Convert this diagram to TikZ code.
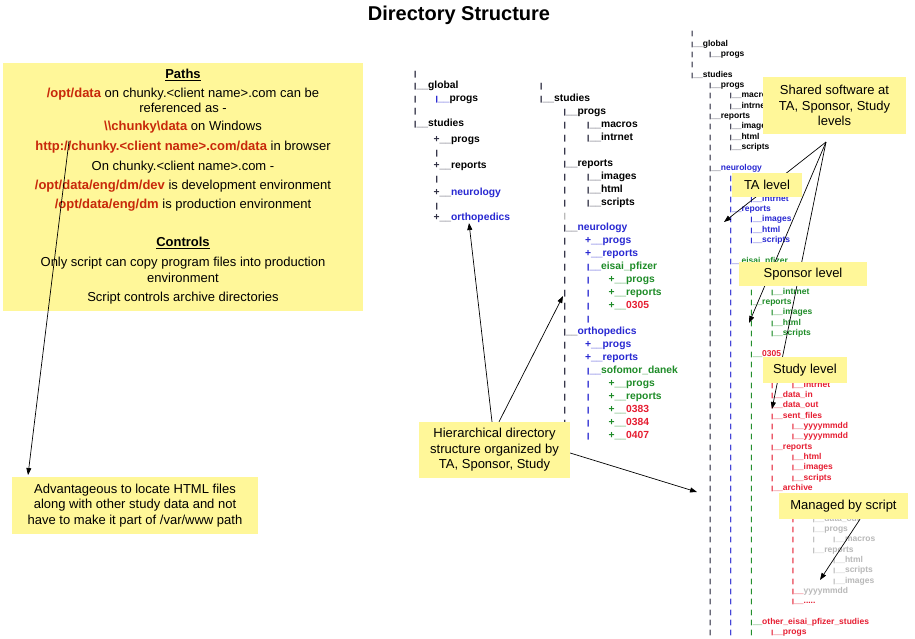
\documentclass[tikz,border=0pt]{standalone}
\usepackage{fontspec}
\usepackage{graphicx}
\setmainfont{Liberation Sans}
\usetikzlibrary{arrows.meta}
\definecolor{noteyellow}{RGB}{255,247,153}
\definecolor{pathred}{RGB}{200,40,10}
\definecolor{dirdark}{RGB}{50,50,70}
\definecolor{dirblue}{RGB}{40,40,210}
\definecolor{dirgreen}{RGB}{30,140,40}
\definecolor{dirred}{RGB}{230,30,50}
\definecolor{dirgray}{RGB}{185,185,185}
\tikzset{
  note/.style={fill=noteyellow, inner sep=0pt, align=center, font=\fontsize{13}{15.5}\selectfont},
  treeB/.style={inner sep=0pt, anchor=base west, xshift=-1.45pt, yshift=-3.4pt, font=\fontsize{10.3}{12}\selectfont\bfseries},
  treeC/.style={inner sep=0pt, anchor=base west, xshift=-1.2pt, yshift=-2.8pt, font=\fontsize{8.5}{10}\selectfont\bfseries},
  plusB/.style={treeB, xshift=-1.55pt},
  pointer/.style={-{Triangle[length=7pt,width=5pt]}, line width=0.7pt},
}
% one directory line: style, x of bar, row, prefix colour, name colour, name
\newcommand{\dirRule}{\scalebox{1}[0.7]{|}}
\newcommand{\dirEntry}[6]{\node[#1] at (#2,#3) {\textcolor{#4}{\dirRule\_\_}\textcolor{#5}{#6}};}
\newcommand{\dirPlus}[6]{\node[#1] at (#2,#3) {\textcolor{#4}{+\_\_}\textcolor{#5}{#6}};}
\newcommand{\dirBar}[4]{\node[#1] at (#2,#3) {\textcolor{#4}{\dirRule}};}
\begin{document}
\begin{tikzpicture}[x=1pt, y=-1pt]
\useasboundingbox (0,0) rectangle (915,638);
\fill[white] (0,0) rectangle (915,638);
\node[font=\fontsize{20}{23}\selectfont\bfseries] (title) at (459,15) {Directory Structure};

% Paths and controls
\node[note, minimum width=360, minimum height=248] (paths) at (183,186.5) {%
\underline{\textbf{Paths}}\\[3.5pt]
\textcolor{pathred}{\textbf{/opt/data}} on chunky.<client name>.com can be\\
referenced as -\\[2.5pt]
\textcolor{pathred}{\textbf{\textbackslash\textbackslash chunky\textbackslash data}} on Windows\\[4.5pt]
\textcolor{pathred}{\textbf{http://chunky.<client name>.com/data}} in browser\\[4.5pt]
On chunky.<client name>.com -\\[3.5pt]
\textcolor{pathred}{\textbf{/opt/data/eng/dm/dev}} is development environment\\[3.5pt]
\textcolor{pathred}{\textbf{/opt/data/eng/dm}} is production environment\\[22.5pt]
\underline{\textbf{Controls}}\\[4.5pt]
Only script can copy program files into production\\
environment\\[3.5pt]
Script controls archive directories};
\node[note, minimum width=246, minimum height=57] (htmlnote) at (135,505.5)
  {Advantageous to locate HTML files\\along with other study data and not\\have to make it part of /var/www path};
\coordinate (httpSrc) at (69,141);
\coordinate (htmlTip) at (28,475);
\draw[pointer] (httpSrc) -- (htmlTip);

% Tree: top levels
\def\lA{415} \def\lB{436.5}
\dirBar{treeB}{\lA}{73}{dirdark}
\dirEntry{treeB}{\lA}{85}{dirdark}{black}{global}
\dirBar{treeB}{\lA}{98}{dirdark}
\dirEntry{treeB}{\lB}{98}{dirblue}{black}{progs}
\dirBar{treeB}{\lA}{110}{dirdark}
\dirEntry{treeB}{\lA}{123}{dirdark}{black}{studies}
\dirPlus{plusB}{\lB}{139}{dirdark}{black}{progs}
\dirBar{treeB}{\lB}{152}{dirdark}
\dirPlus{plusB}{\lB}{165}{dirdark}{black}{reports}
\dirBar{treeB}{\lB}{178}{dirdark}
\dirPlus{plusB}{\lB}{192}{dirdark}{dirblue}{neurology}
\dirBar{treeB}{\lB}{205}{dirdark}
\dirPlus{plusB}{\lB}{217}{dirdark}{dirblue}{orthopedics}

% Tree: studies by TA and sponsor
\def\mA{541} \def\mB{564.5} \def\mC{588} \def\mD{611.5}
\begin{scope}[shift={(0,85)}, y=-12.96pt]
  \dirBar{treeB}{\mA}{0}{dirdark}
  \dirEntry{treeB}{\mA}{1}{dirdark}{black}{studies}
  \dirEntry{treeB}{\mB}{2}{dirdark}{black}{progs}
  \dirEntry{treeB}{\mC}{3}{dirdark}{black}{macros}
  \dirEntry{treeB}{\mC}{4}{dirdark}{black}{intrnet}
  \dirEntry{treeB}{\mB}{6}{dirdark}{black}{reports}
  \dirEntry{treeB}{\mC}{7}{dirdark}{black}{images}
  \dirEntry{treeB}{\mC}{8}{dirdark}{black}{html}
  \dirEntry{treeB}{\mC}{9}{dirdark}{black}{scripts}
  \dirEntry{treeB}{\mB}{11}{dirdark}{dirblue}{neurology}
  \dirEntry{treeB}{\mB}{19}{dirdark}{dirblue}{orthopedics}
  \foreach \i in {3,4,5,7,8,9,12,13,...,18,20,21,...,27} {\dirBar{treeB}{\mB}{\i}{dirdark}}
  \dirBar{treeB}{\mB}{10}{dirgray}
  % neurology
  \dirPlus{plusB}{\mC}{12}{dirblue}{dirblue}{progs}
  \dirPlus{plusB}{\mC}{13}{dirblue}{dirblue}{reports}
  \dirEntry{treeB}{\mC}{14}{dirblue}{dirgreen}{eisai\_pfizer}
  \foreach \i in {15,...,18} {\dirBar{treeB}{\mC}{\i}{dirblue}}
  \dirPlus{plusB}{\mD}{15}{dirgreen}{dirgreen}{progs}
  \dirPlus{plusB}{\mD}{16}{dirgreen}{dirgreen}{reports}
  \dirPlus{plusB}{\mD}{17}{dirgreen}{dirred}{0305}
  % orthopedics
  \dirPlus{plusB}{\mC}{20}{dirblue}{dirblue}{progs}
  \dirPlus{plusB}{\mC}{21}{dirblue}{dirblue}{reports}
  \dirEntry{treeB}{\mC}{22}{dirblue}{dirgreen}{sofomor\_danek}
  \foreach \i in {23,...,27} {\dirBar{treeB}{\mC}{\i}{dirblue}}
  \dirPlus{plusB}{\mD}{23}{dirgreen}{dirgreen}{progs}
  \dirPlus{plusB}{\mD}{24}{dirgreen}{dirgreen}{reports}
  \dirPlus{plusB}{\mD}{25}{dirgreen}{dirred}{0383}
  \dirPlus{plusB}{\mD}{26}{dirgreen}{dirred}{0384}
  \dirPlus{plusB}{\mD}{27}{dirgreen}{dirred}{0407}
\end{scope}

% Tree: full layout down to study level
\def\rA{692} \def\rB{710} \def\rC{730.7} \def\rD{751.4}
\def\rE{772.1} \def\rF{792.8} \def\rG{813.5} \def\rH{834.2}
\begin{scope}[shift={(0,33)}, y=-10.33pt]
  \foreach \i in {0,2,3} {\dirBar{treeC}{\rA}{\i}{dirdark}}
  \dirEntry{treeC}{\rA}{1}{dirdark}{black}{global}
  \dirEntry{treeC}{\rB}{2}{dirdark}{black}{progs}
  \dirEntry{treeC}{\rA}{4}{dirdark}{black}{studies}
  \dirEntry{treeC}{\rB}{5}{dirdark}{black}{progs}
  \dirEntry{treeC}{\rC}{6}{dirdark}{black}{macros}
  \dirEntry{treeC}{\rC}{7}{dirdark}{black}{intrnet}
  \dirEntry{treeC}{\rB}{8}{dirdark}{black}{reports}
  \dirEntry{treeC}{\rC}{9}{dirdark}{black}{images}
  \dirEntry{treeC}{\rC}{10}{dirdark}{black}{html}
  \dirEntry{treeC}{\rC}{11}{dirdark}{black}{scripts}
  \dirEntry{treeC}{\rB}{13}{dirdark}{dirblue}{neurology}
  \foreach \i in {6,7,9,10,11,12,14,15,...,58} {\dirBar{treeC}{\rB}{\i}{dirdark}}
  % TA level
  \dirEntry{treeC}{\rD}{16}{dirblue}{dirblue}{intrnet}
  \dirEntry{treeC}{\rC}{17}{dirblue}{dirblue}{reports}
  \dirEntry{treeC}{\rD}{18}{dirblue}{dirblue}{images}
  \dirEntry{treeC}{\rD}{19}{dirblue}{dirblue}{html}
  \dirEntry{treeC}{\rD}{20}{dirblue}{dirblue}{scripts}
  \dirEntry{treeC}{\rC}{22}{dirblue}{dirgreen}{eisai\_pfizer}
  \foreach \i in {14,15,16,18,19,20,21,23,24,...,58} {\dirBar{treeC}{\rC}{\i}{dirblue}}
  % sponsor level
  \dirEntry{treeC}{\rE}{25}{dirgreen}{dirgreen}{intrnet}
  \dirEntry{treeC}{\rD}{26}{dirgreen}{dirgreen}{reports}
  \dirEntry{treeC}{\rE}{27}{dirgreen}{dirgreen}{images}
  \dirEntry{treeC}{\rE}{28}{dirgreen}{dirgreen}{html}
  \dirEntry{treeC}{\rE}{29}{dirgreen}{dirgreen}{scripts}
  \dirEntry{treeC}{\rD}{31}{dirgreen}{dirred}{0305}
  \dirEntry{treeC}{\rD}{57}{dirgreen}{dirred}{other\_eisai\_pfizer\_studies}
  \foreach \i in {25,27,28,29,30,32,33,...,56,58} {\dirBar{treeC}{\rD}{\i}{dirgreen}}
  % study level
  \dirEntry{treeC}{\rF}{34}{dirred}{dirred}{intrnet}
  \dirEntry{treeC}{\rE}{35}{dirred}{dirred}{data\_in}
  \dirEntry{treeC}{\rE}{36}{dirred}{dirred}{data\_out}
  \dirEntry{treeC}{\rE}{37}{dirred}{dirred}{sent\_files}
  \dirEntry{treeC}{\rF}{38}{dirred}{dirred}{yyyymmdd}
  \dirEntry{treeC}{\rF}{39}{dirred}{dirred}{yyyymmdd}
  \dirEntry{treeC}{\rE}{40}{dirred}{dirred}{reports}
  \dirEntry{treeC}{\rF}{41}{dirred}{dirred}{html}
  \dirEntry{treeC}{\rF}{42}{dirred}{dirred}{images}
  \dirEntry{treeC}{\rF}{43}{dirred}{dirred}{scripts}
  \dirEntry{treeC}{\rE}{44}{dirred}{dirred}{archive}
  \foreach \i in {34,38,39,41,42,43} {\dirBar{treeC}{\rE}{\i}{dirred}}
  % archive
  \dirEntry{treeC}{\rG}{47}{dirgray}{dirgray}{data\_out}
  \dirEntry{treeC}{\rG}{48}{dirgray}{dirgray}{progs}
  \dirBar{treeC}{\rG}{49}{dirgray}
  \dirEntry{treeC}{\rH}{49}{dirgray}{dirgray}{macros}
  \dirEntry{treeC}{\rG}{50}{dirgray}{dirgray}{reports}
  \dirEntry{treeC}{\rH}{51}{dirgray}{dirgray}{html}
  \dirEntry{treeC}{\rH}{52}{dirgray}{dirgray}{scripts}
  \dirEntry{treeC}{\rH}{53}{dirgray}{dirgray}{images}
  \foreach \i in {47,...,53} {\dirBar{treeC}{\rF}{\i}{dirred}}
  \dirEntry{treeC}{\rF}{54}{dirred}{dirgray}{yyyymmdd}
  \dirEntry{treeC}{\rF}{55}{dirred}{dirred}{.....}
  \dirEntry{treeC}{\rE}{58}{dirred}{dirred}{progs}
\end{scope}

% Callouts
\node[note, minimum width=151, minimum height=56] (hier) at (494.5,450)
  {Hierarchical directory\\structure organized by\\TA, Sponsor, Study};
\coordinate (orthoTip) at (469,223);
\coordinate (sponsorTreeTip) at (563,296);
\coordinate (fullTreeTip) at (697,492);
\draw[pointer] ([xshift=-2.5pt]hier.north) -- (orthoTip);
\draw[pointer] ([xshift=4.5pt]hier.north) -- (sponsorTreeTip);
\draw[pointer] ([yshift=-3pt]hier.east) -- (fullTreeTip);

\coordinate (sharedFoot) at (826,142);
\coordinate (taTip) at (724,222);
\coordinate (sponsorTip) at (749,323);
\coordinate (studyTip) at (772,409);
\draw[pointer] (sharedFoot) -- (taTip);
\draw[pointer] (sharedFoot) -- (sponsorTip);
\draw[pointer] (sharedFoot) -- (studyTip);
\node[note, minimum width=143, minimum height=57] (shared) at (834.5,105.5)
  {Shared software at\\TA, Sponsor, Study\\levels};
\node[note, minimum width=70, minimum height=24] (talevel) at (767,185) {TA level};
\node[note, minimum width=128, minimum height=24] (sponsorlevel) at (803,274) {Sponsor level};
\node[note, minimum width=84, minimum height=26] (studylevel) at (805,370) {Study level};

\node[note, minimum width=129, minimum height=26] (managed) at (843.5,506) {Managed by script};
\coordinate (archiveTip) at (820,580);
\draw[pointer] ([xshift=16.5pt]managed.south) -- (archiveTip);
\end{tikzpicture}
\end{document}
